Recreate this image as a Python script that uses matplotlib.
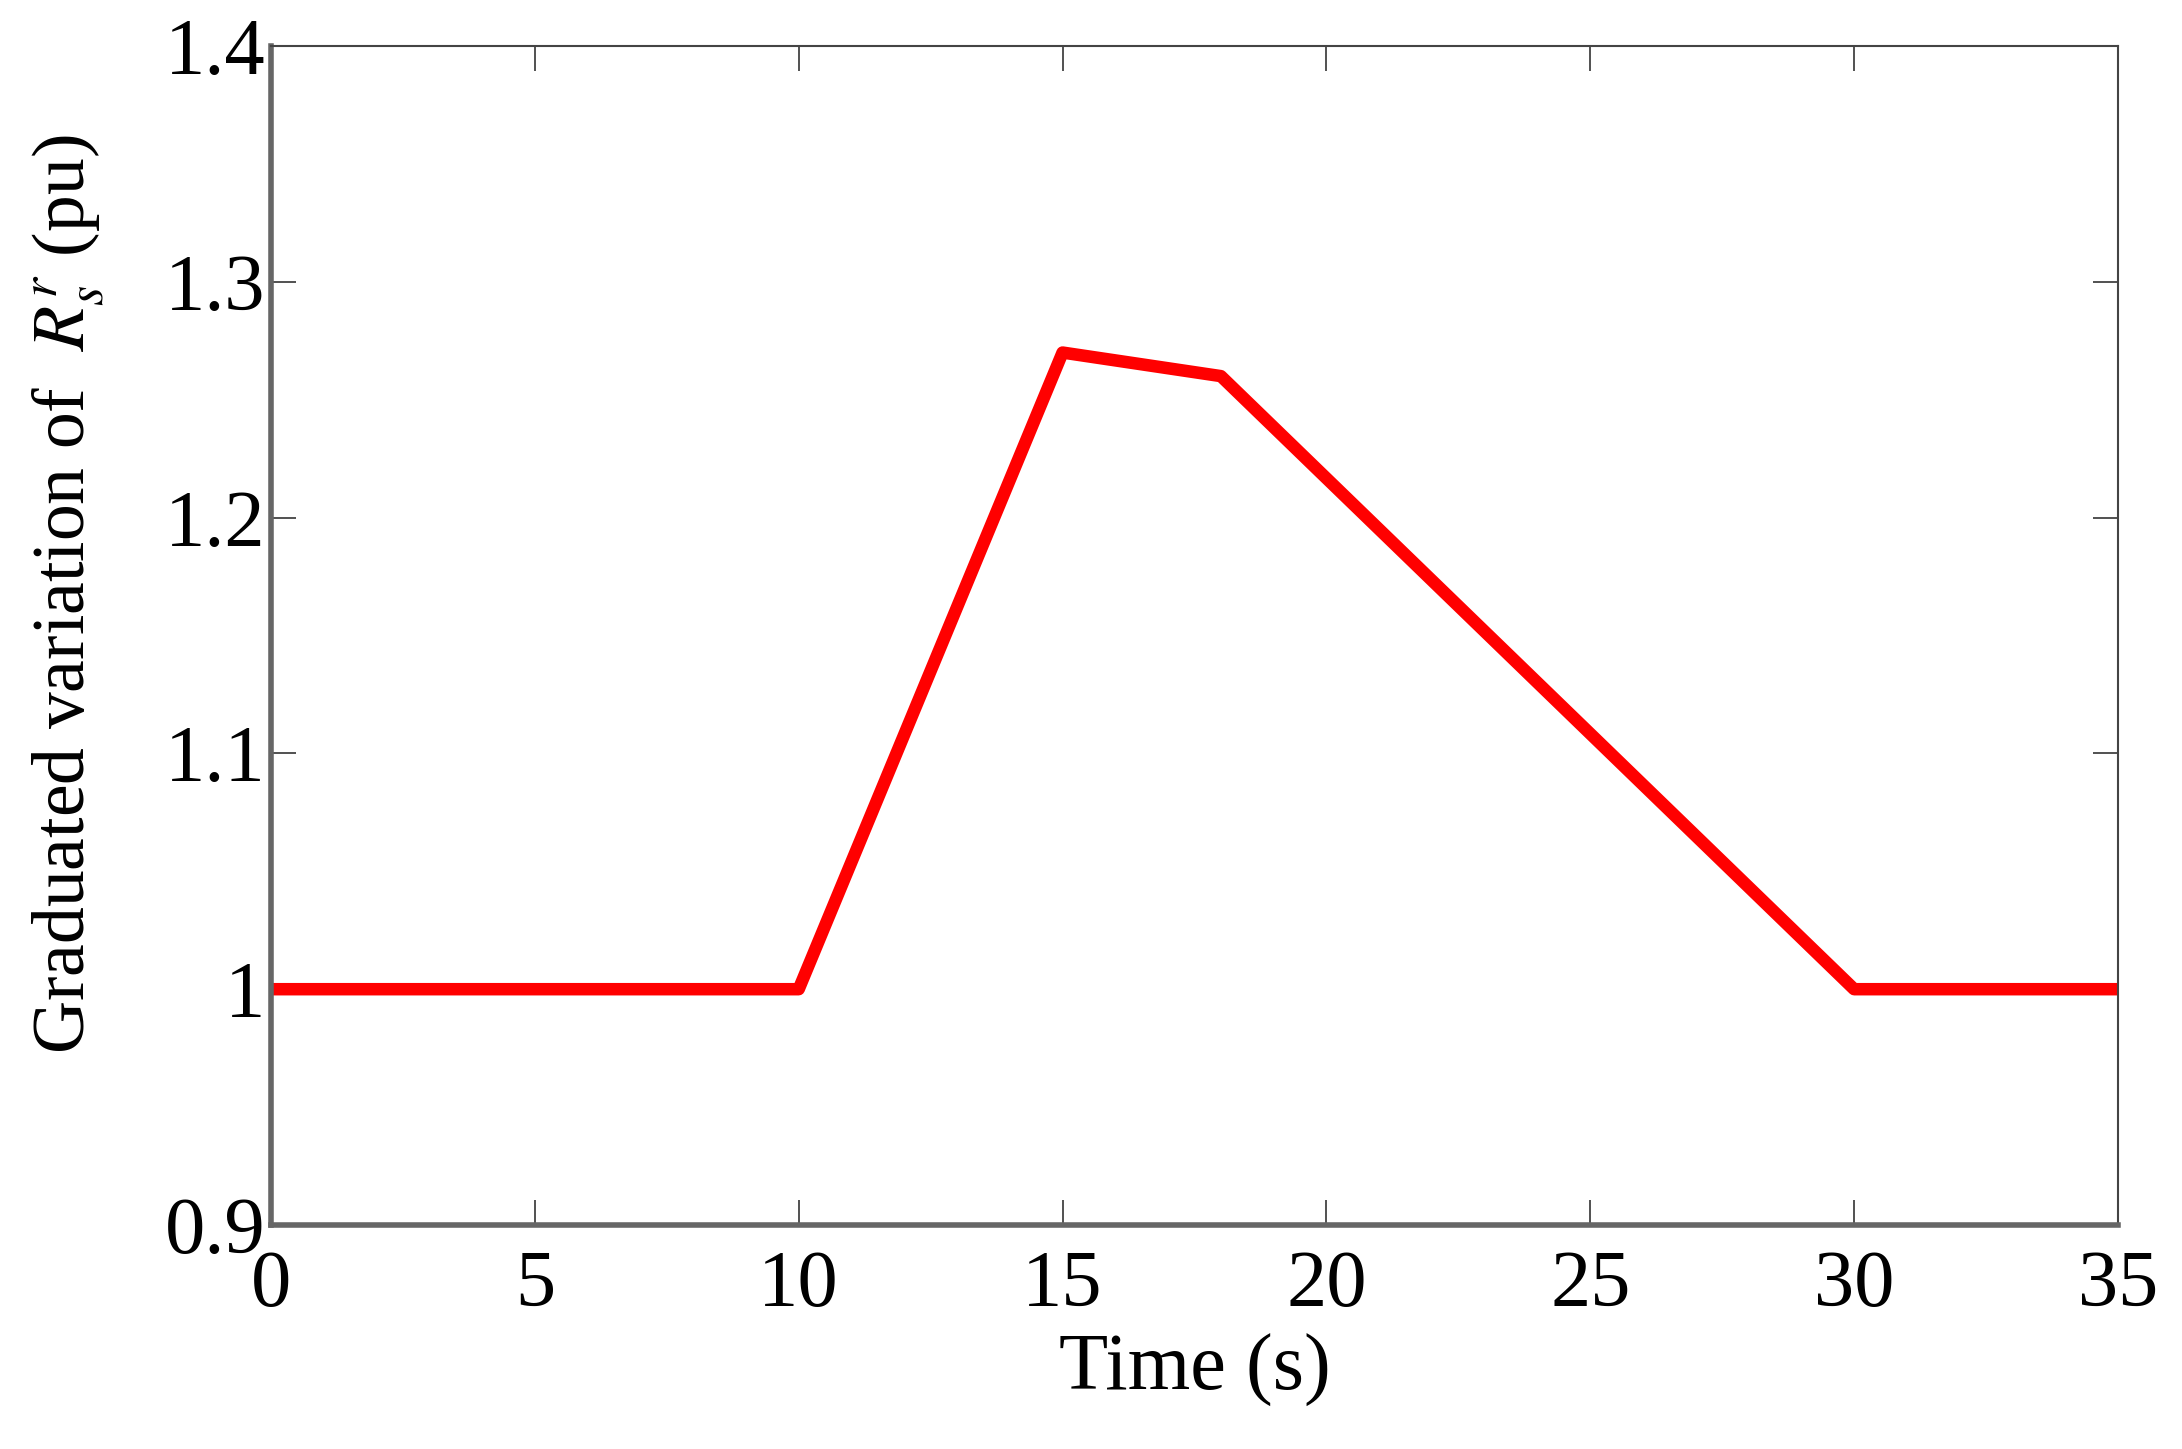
import matplotlib
matplotlib.use('Agg')
import matplotlib.pyplot as plt

# breakpoints of the graduated variation profile
time_s = [0, 10, 15, 18, 30, 35]
rs_pu = [1.0, 1.0, 1.27, 1.26, 1.0, 1.0]

xticks = [0, 5, 10, 15, 20, 25, 30, 35]
yticks = [0.9, 1.0, 1.1, 1.2, 1.3, 1.4]
ytick_labels = ['0.9', '1', '1.1', '1.2', '1.3', '1.4']

plt.rcParams['font.family'] = ['Liberation Serif', 'DejaVu Serif']
plt.rcParams['mathtext.fontset'] = 'stix'

fig = plt.figure(figsize=(21.82, 14.49), dpi=100)
ax = fig.add_axes([271 / 2182, 1 - 1225 / 1449, (2118 - 271) / 2182, (1225 - 46) / 1449])

ax.plot(time_s, rs_pu, color='#ff0000', linewidth=9, solid_joinstyle='round')

ax.set_xlim(0, 35)
ax.set_ylim(0.9, 1.4)
ax.set_xticks(xticks)
ax.set_yticks(yticks)
ax.set_yticklabels(ytick_labels)
ax.tick_params(direction='in', length=18, width=1.2, top=True, right=True,
               labelsize=58, colors='#333333', labelcolor='black')
ax.tick_params(axis='x', pad=18)
ax.tick_params(axis='y', pad=4)

for side in ['top', 'right']:
    ax.spines[side].set_linewidth(1.5)
    ax.spines[side].set_color('#444444')
for side in ['left', 'bottom']:
    ax.spines[side].set_linewidth(4)
    ax.spines[side].set_color('#666666')

ax.set_xlabel('Time (s)', fontsize=58, labelpad=8)
ax.set_ylabel(r'Graduated variation of  $R_s^r$ (pu)', fontsize=53)
ax.yaxis.set_label_coords(-0.089, 0.535)

fig.savefig('out.png', dpi=100)
plt.close()
